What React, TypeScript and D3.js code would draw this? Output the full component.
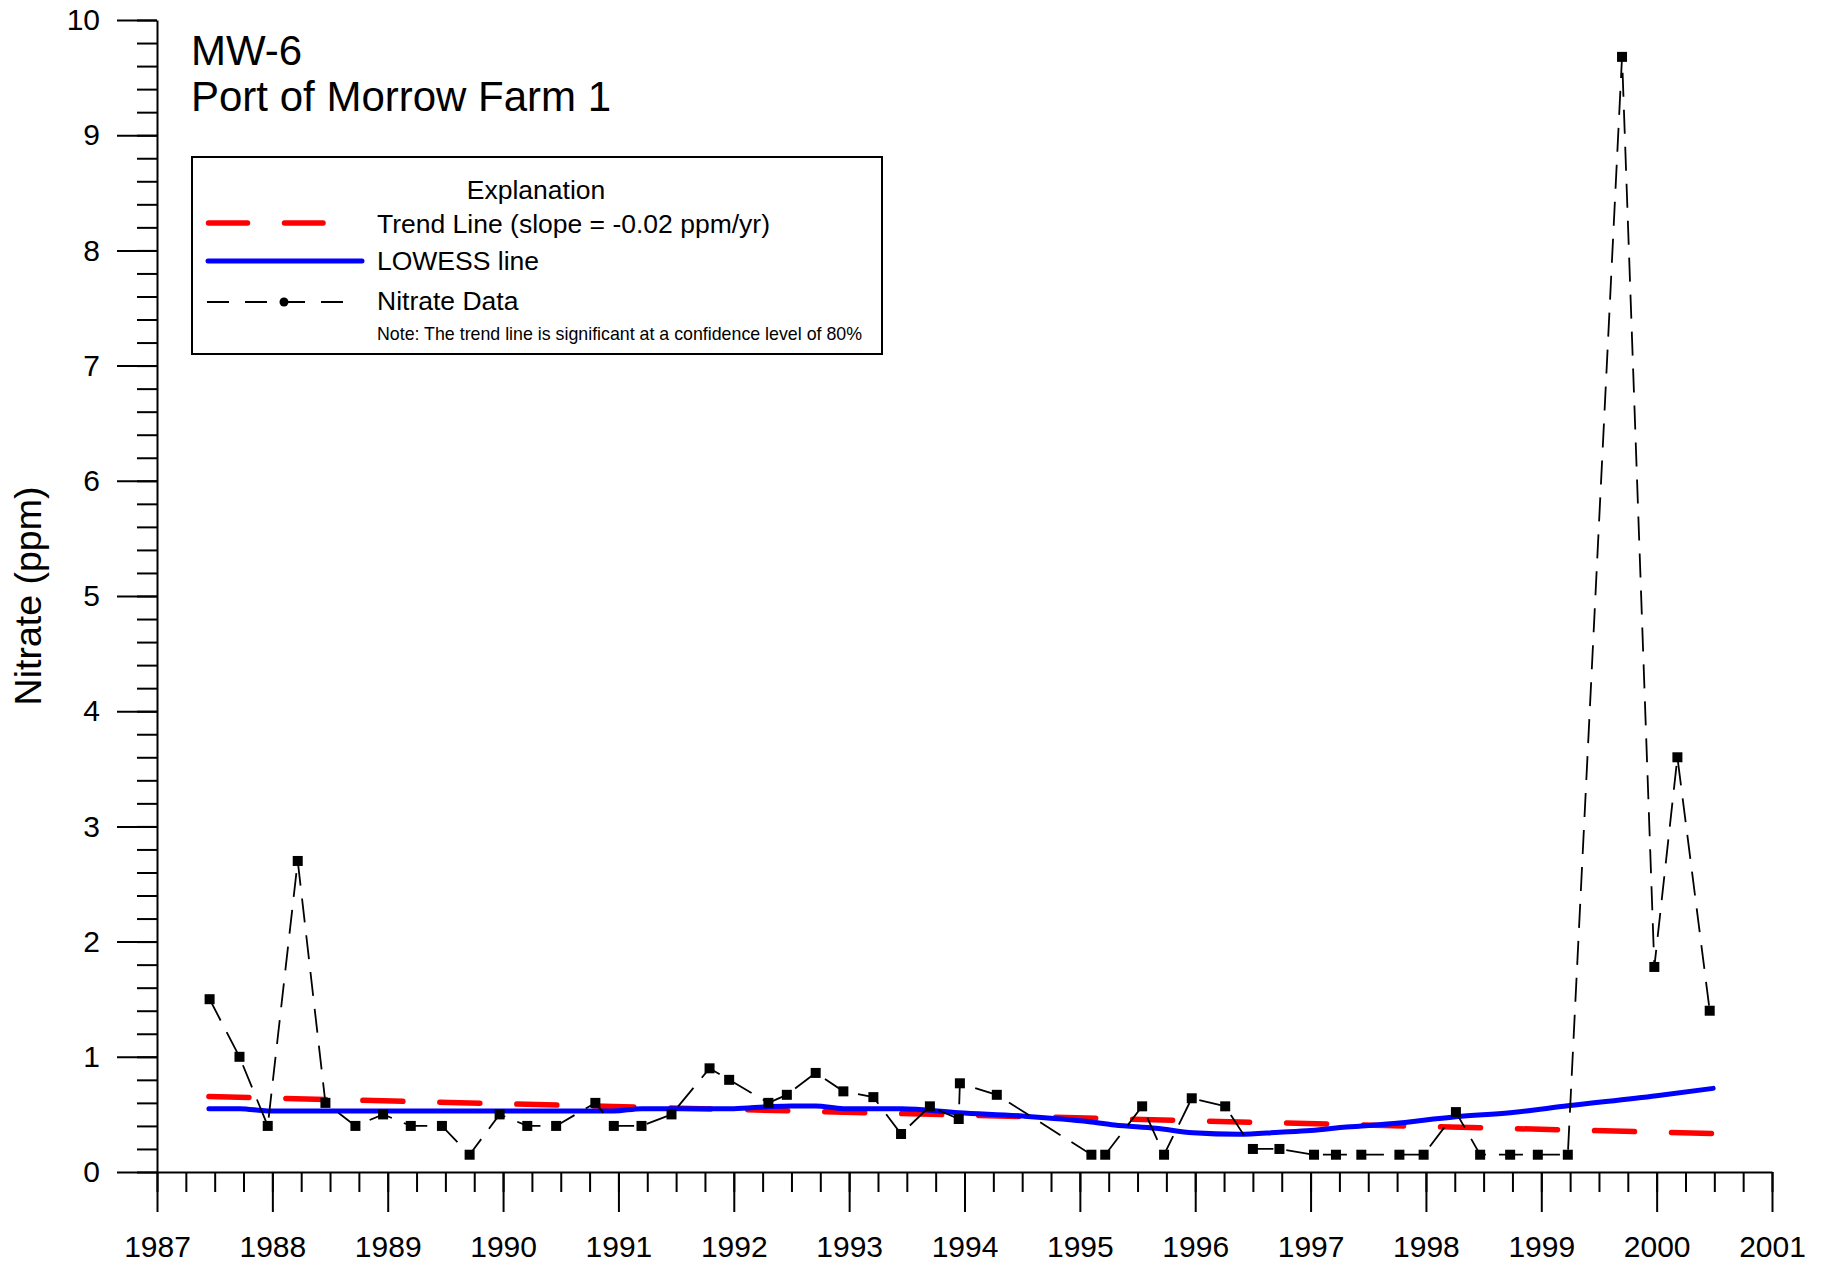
import React, {useEffect, useRef} from "react";
import * as d3 from "d3";

// Nitrate samples, MW-6 (decimal year, ppm)
const sampleDates = [
	1987.456, 1987.715, 1987.96, 1988.22, 1988.46, 1988.72, 1988.96, 1989.2, 1989.47, 1989.71,
	1989.97, 1990.21, 1990.46, 1990.8, 1990.96, 1991.2, 1991.46, 1991.79, 1991.96, 1992.3,
	1992.46, 1992.71, 1992.95, 1993.21, 1993.45, 1993.7, 1993.95, 1993.96, 1994.28, 1995.1,
	1995.22, 1995.54, 1995.73, 1995.97, 1996.26, 1996.5, 1996.73, 1997.03, 1997.22, 1997.44,
	1997.77, 1997.98, 1998.26, 1998.47, 1998.73, 1998.97, 1999.23, 1999.7, 1999.98, 2000.18,
	2000.46,
];
const nitrateValues = [
	1.5, 1.0, 0.4, 2.7, 0.6, 0.4, 0.5, 0.4, 0.4, 0.15,
	0.5, 0.4, 0.4, 0.6, 0.4, 0.4, 0.5, 0.9, 0.8, 0.6,
	0.67, 0.86, 0.7, 0.65, 0.33, 0.57, 0.46, 0.77, 0.67, 0.15,
	0.15, 0.57, 0.15, 0.64, 0.57, 0.2, 0.2, 0.15, 0.15, 0.15,
	0.15, 0.15, 0.52, 0.15, 0.15, 0.15, 0.15, 9.68, 1.78, 3.6,
	1.4,
];

// LOWESS smooth
const lowessDates = [
	1987.45, 1987.72, 1987.96, 1988.5, 1989, 1989.5, 1990, 1990.5, 1990.96, 1991.2,
	1991.7, 1992.0, 1992.3, 1992.5, 1992.71, 1992.95, 1993.45, 1993.95, 1994.5, 1995.08,
	1995.3, 1995.66, 1995.98, 1996.38, 1996.73, 1997.0, 1997.31, 1997.77, 1997.98, 1998.26,
	1998.73, 1999.23, 2000.0, 2000.49,
];
const lowessValues = [
	0.55, 0.55, 0.53, 0.53, 0.53, 0.53, 0.53, 0.53, 0.53, 0.55,
	0.55, 0.55, 0.567, 0.573, 0.573, 0.55, 0.55, 0.515, 0.486, 0.437,
	0.408, 0.38, 0.34, 0.327, 0.345, 0.36, 0.39, 0.425, 0.45, 0.48,
	0.515, 0.575, 0.662, 0.726,
];

// trend line end points
const trendDates = [1987.45, 2000.49];
const trendValues = [0.655, 0.334];

const yearTicks = d3.range(1987, 2002);
const yearMinorTicks = d3.range(1987, 2001.01, 0.25);
const yMajorTicks = d3.range(0, 11);
const yMinorTicks = d3.range(0, 10.01, 0.2);

const FONT = "'Liberation Sans', Arial, Helvetica, sans-serif";

const App: React.FC = () => {
	const svgRef = useRef<SVGSVGElement>(null);

	useEffect(() => {
		const svg = d3.select(svgRef.current);
		svg.selectAll("*").remove();

		const xScale = d3.scaleLinear().domain([1987, 2001]).range([157, 1772]);
		const yScale = d3.scaleLinear().domain([0, 10]).range([1172, 20]);

		// Y axis: minor then major
		svg.append("g")
			.attr("transform", `translate(${xScale(1987)},0)`)
			.call(d3.axisLeft(yScale).tickValues(yMinorTicks).tickSize(20).tickSizeOuter(0).tickFormat(() => ""))
			.call((g) => g.select(".domain").remove());

		const yAxis = svg.append("g")
			.attr("transform", `translate(${xScale(1987)},0)`)
			.call(d3.axisLeft(yScale).tickValues(yMajorTicks).tickSize(40).tickSizeOuter(0).tickPadding(17).tickFormat(d3.format("d")));
		yAxis.selectAll("text").attr("font-size", 30).attr("font-family", FONT).attr("fill", "#000");

		// X axis: minor then major
		svg.append("g")
			.attr("transform", `translate(0,${yScale(0)})`)
			.call(d3.axisBottom(xScale).tickValues(yearMinorTicks).tickSize(20).tickSizeOuter(0).tickFormat(() => ""))
			.call((g) => g.select(".domain").remove());

		const xAxis = svg.append("g")
			.attr("transform", `translate(0,${yScale(0)})`)
			.call(d3.axisBottom(xScale).tickValues(yearTicks).tickSize(40).tickSizeOuter(0).tickPadding(24).tickFormat(d3.format("d")));
		xAxis.selectAll("text").attr("font-size", 30).attr("font-family", FONT).attr("fill", "#000");

		svg.selectAll(".domain, .tick line").attr("stroke", "#000").attr("stroke-width", 2);

		// Y axis title
		svg.append("text")
			.attr("transform", `translate(41,${yScale(5)}) rotate(-90)`)
			.attr("text-anchor", "middle")
			.attr("font-family", FONT)
			.attr("font-size", 37.5)
			.text("Nitrate (ppm)");

		// Trend line
		const trendLine = d3.line<number>()
			.x((d, i) => xScale(trendDates[i]))
			.y((d) => yScale(d));
		svg.append("path")
			.datum(trendValues)
			.attr("fill", "none")
			.attr("stroke", "#ff0000")
			.attr("stroke-width", 5.5)
			.attr("stroke-linecap", "round")
			.attr("stroke-dasharray", "40 37")
			.attr("d", trendLine);

		// LOWESS line
		const lowessLine = d3.line<number>()
			.x((d, i) => xScale(lowessDates[i]))
			.y((d) => yScale(d))
			.curve(d3.curveMonotoneX);
		svg.append("path")
			.datum(lowessValues)
			.attr("fill", "none")
			.attr("stroke", "#0000ff")
			.attr("stroke-width", 5)
			.attr("stroke-linecap", "round")
			.attr("d", lowessLine);

		// Nitrate data
		const dataLine = d3.line<number>()
			.x((d, i) => xScale(sampleDates[i]))
			.y((d) => yScale(d));
		svg.append("path")
			.datum(nitrateValues)
			.attr("fill", "none")
			.attr("stroke", "#000")
			.attr("stroke-width", 1.8)
			.attr("stroke-dasharray", "24 13")
			.attr("d", dataLine);

		svg.selectAll(".pt")
			.data(nitrateValues)
			.enter()
			.append("rect")
			.attr("class", "pt")
			.attr("x", (d, i) => xScale(sampleDates[i]) - 5)
			.attr("y", (d) => yScale(d) - 5)
			.attr("width", 10)
			.attr("height", 10)
			.attr("fill", "#000");

		// Title
		svg.append("text")
			.attr("x", 191)
			.attr("y", 65)
			.attr("font-family", FONT)
			.attr("font-size", 42)
			.text("MW-6");
		svg.append("text")
			.attr("x", 191)
			.attr("y", 111)
			.attr("font-family", FONT)
			.attr("font-size", 42)
			.text("Port of Morrow Farm 1");

		// Legend
		const lg = svg.append("g");
		lg.append("rect")
			.attr("x", 192)
			.attr("y", 157)
			.attr("width", 690)
			.attr("height", 197)
			.attr("fill", "#fff")
			.attr("stroke", "#000")
			.attr("stroke-width", 2);
		lg.append("text")
			.attr("x", 536)
			.attr("y", 199)
			.attr("text-anchor", "middle")
			.attr("font-family", FONT)
			.attr("font-size", 26.5)
			.text("Explanation");

		lg.append("line")
			.attr("x1", 208.5).attr("x2", 323).attr("y1", 223).attr("y2", 223)
			.attr("stroke", "#ff0000").attr("stroke-width", 5.5)
			.attr("stroke-linecap", "round").attr("stroke-dasharray", "39 37");
		lg.append("line")
			.attr("x1", 208).attr("x2", 362).attr("y1", 261).attr("y2", 261)
			.attr("stroke", "#0000ff").attr("stroke-width", 5)
			.attr("stroke-linecap", "round");
		lg.append("line")
			.attr("x1", 207).attr("x2", 344).attr("y1", 302).attr("y2", 302)
			.attr("stroke", "#000").attr("stroke-width", 2)
			.attr("stroke-dasharray", "22 16");
		lg.append("circle")
			.attr("cx", 284).attr("cy", 302).attr("r", 4.5).attr("fill", "#000");

		const labels = [
			{y: 233, text: "Trend Line (slope = -0.02 ppm/yr)", size: 26.5},
			{y: 270, text: "LOWESS line", size: 26.5},
			{y: 310, text: "Nitrate Data", size: 26.5},
			{y: 340, text: "Note: The trend line is significant at a confidence level of 80%", size: 17.8},
		];
		labels.forEach((l) => {
			lg.append("text")
				.attr("x", 377)
				.attr("y", l.y)
				.attr("font-family", FONT)
				.attr("font-size", l.size)
				.text(l.text);
		});
	}, []);

	return (
		<div style={{position: "absolute", left: 0, top: 0}}>
			<svg ref={svgRef} width={1826} height={1267} style={{display: "block", background: "#fff"}} />
		</div>
	);
};

export default App;
